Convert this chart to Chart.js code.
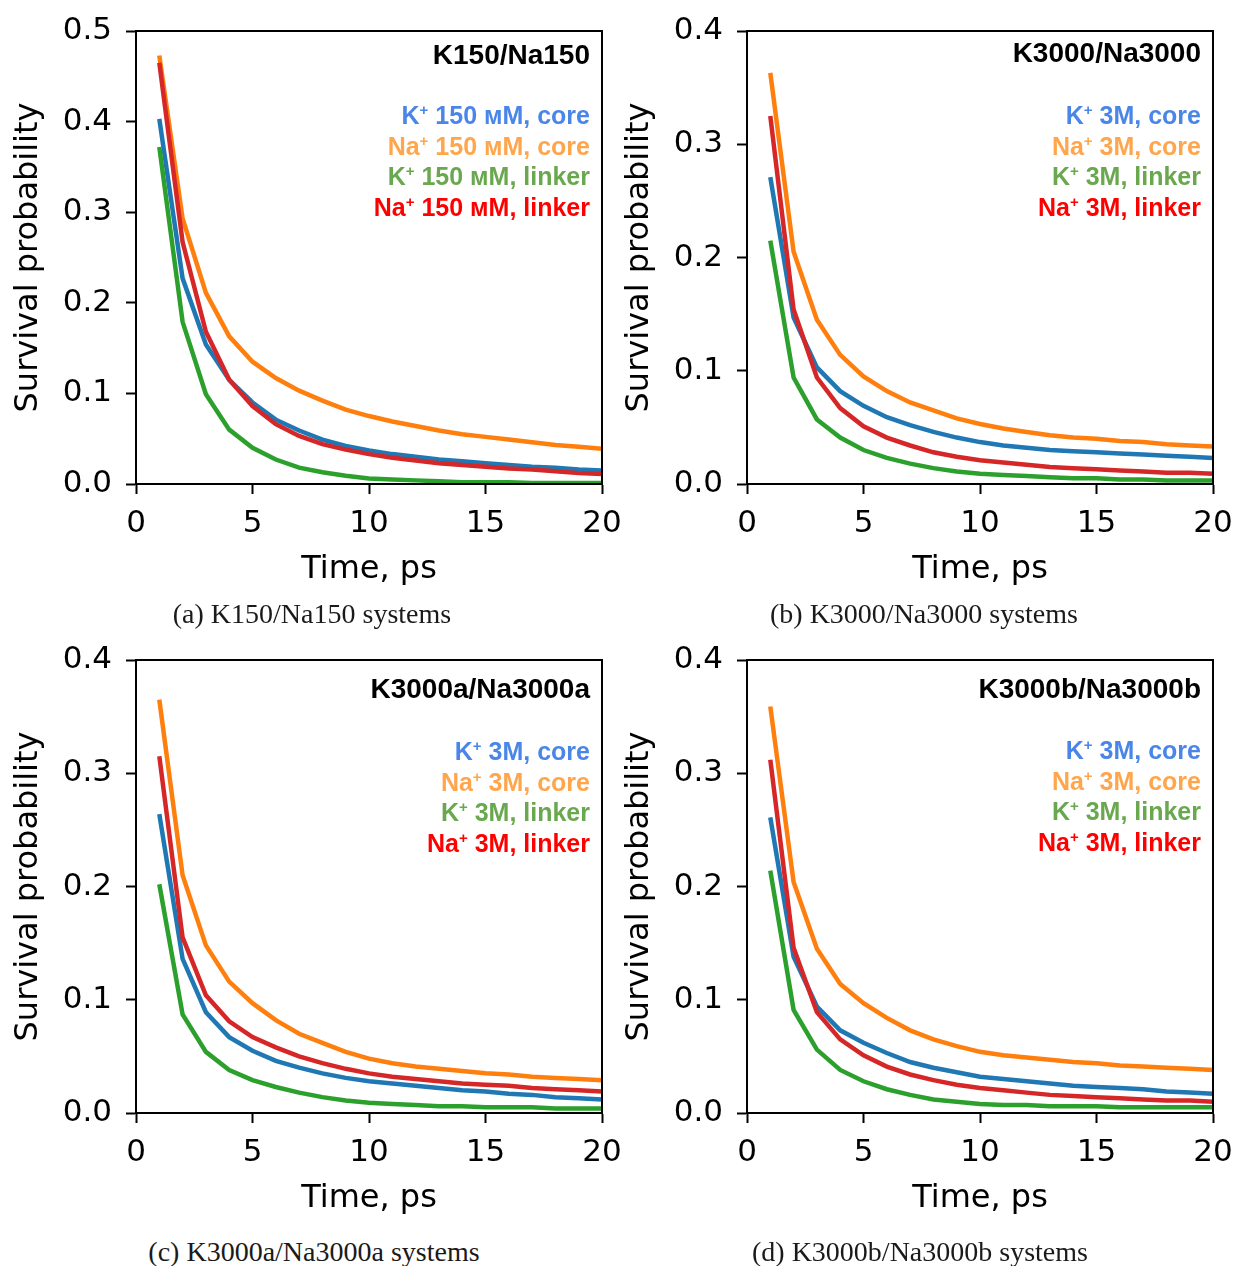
<!DOCTYPE html>
<html>
<head>
<meta charset="utf-8">
<script src="https://cdn.jsdelivr.net/npm/chart.js@4"></script>
<style>
  body { margin: 0; background: #fff; }
  #page { position: relative; width: 1234px; height: 1266px; background: #fff; }
  .panel { position: absolute; width: 620px; height: 600px; }
  .caption {
    position: absolute; width: 620px; text-align: center;
    font-family: "Liberation Serif", serif; font-size: 28px; color: #1a1a1a;
    line-height: 32px;
  }
</style>
</head>
<body>
<div id="page">
  <div class="panel" style="left:0;top:0"><canvas id="chartA" width="620" height="600"></canvas></div>
  <div class="panel" style="left:611px;top:0"><canvas id="chartB" width="620" height="600"></canvas></div>
  <div class="panel" style="left:0;top:629px"><canvas id="chartC" width="620" height="600"></canvas></div>
  <div class="panel" style="left:611px;top:629px"><canvas id="chartD" width="620" height="600"></canvas></div>
  <div class="caption" style="left:2px;top:598px">(a) K150/Na150 systems</div>
  <div class="caption" style="left:614px;top:598px">(b) K3000/Na3000 systems</div>
  <div class="caption" style="left:4px;top:1236px">(c) K3000a/Na3000a systems</div>
  <div class="caption" style="left:610px;top:1236px">(d) K3000b/Na3000b systems</div>
</div>
<script>
// time axis, ps
const timePs = [1, 2, 3, 4, 5, 6, 7, 8, 9, 10, 11, 12, 13, 14, 15, 16, 17, 18, 19, 20];

// (a) K150/Na150
const a_kCore   = [0.403, 0.227, 0.154, 0.115, 0.090, 0.071, 0.059, 0.049, 0.042, 0.037, 0.033, 0.030, 0.027, 0.025, 0.023, 0.021, 0.019, 0.018, 0.016, 0.015];
const a_naCore  = [0.473, 0.293, 0.211, 0.163, 0.135, 0.117, 0.103, 0.092, 0.082, 0.075, 0.069, 0.064, 0.059, 0.055, 0.052, 0.049, 0.046, 0.043, 0.041, 0.039];
const a_kLink   = [0.372, 0.179, 0.099, 0.060, 0.040, 0.027, 0.018, 0.013, 0.009, 0.006, 0.005, 0.004, 0.003, 0.002, 0.002, 0.002, 0.001, 0.001, 0.001, 0.001];
const a_naLink  = [0.465, 0.267, 0.168, 0.115, 0.086, 0.066, 0.053, 0.044, 0.038, 0.033, 0.029, 0.026, 0.023, 0.021, 0.019, 0.017, 0.016, 0.014, 0.012, 0.011];

// (b) K3000/Na3000
const b_kCore   = [0.271, 0.147, 0.103, 0.082, 0.069, 0.059, 0.052, 0.046, 0.041, 0.037, 0.034, 0.032, 0.030, 0.029, 0.028, 0.027, 0.026, 0.025, 0.024, 0.023];
const b_naCore  = [0.363, 0.205, 0.145, 0.114, 0.095, 0.082, 0.072, 0.065, 0.058, 0.053, 0.049, 0.046, 0.043, 0.041, 0.040, 0.038, 0.037, 0.035, 0.034, 0.033];
const b_kLink   = [0.215, 0.094, 0.057, 0.041, 0.030, 0.023, 0.018, 0.014, 0.011, 0.009, 0.008, 0.007, 0.006, 0.005, 0.005, 0.004, 0.004, 0.003, 0.003, 0.003];
const b_naLink  = [0.325, 0.154, 0.094, 0.067, 0.051, 0.041, 0.034, 0.028, 0.024, 0.021, 0.019, 0.017, 0.015, 0.014, 0.013, 0.012, 0.011, 0.010, 0.010, 0.009];

// (c) K3000a/Na3000a
const c_kCore   = [0.264, 0.136, 0.089, 0.067, 0.055, 0.046, 0.040, 0.035, 0.031, 0.028, 0.026, 0.024, 0.022, 0.020, 0.019, 0.017, 0.016, 0.014, 0.013, 0.012];
const c_naCore  = [0.365, 0.210, 0.148, 0.116, 0.097, 0.082, 0.070, 0.062, 0.054, 0.048, 0.044, 0.041, 0.039, 0.037, 0.035, 0.034, 0.032, 0.031, 0.030, 0.029];
const c_kLink   = [0.202, 0.087, 0.054, 0.038, 0.029, 0.023, 0.018, 0.014, 0.011, 0.009, 0.008, 0.007, 0.006, 0.006, 0.005, 0.005, 0.005, 0.004, 0.004, 0.004];
const c_naLink  = [0.315, 0.155, 0.104, 0.081, 0.067, 0.058, 0.050, 0.044, 0.039, 0.035, 0.032, 0.030, 0.028, 0.026, 0.025, 0.024, 0.022, 0.021, 0.020, 0.019];

// (d) K3000b/Na3000b
const d_kCore   = [0.261, 0.138, 0.094, 0.073, 0.062, 0.053, 0.045, 0.040, 0.036, 0.032, 0.030, 0.028, 0.026, 0.024, 0.023, 0.022, 0.021, 0.019, 0.018, 0.017];
const d_naCore  = [0.359, 0.204, 0.145, 0.114, 0.097, 0.084, 0.073, 0.065, 0.059, 0.054, 0.051, 0.049, 0.047, 0.045, 0.044, 0.042, 0.041, 0.040, 0.039, 0.038];
const d_kLink   = [0.214, 0.091, 0.056, 0.038, 0.028, 0.021, 0.016, 0.012, 0.010, 0.008, 0.007, 0.007, 0.006, 0.006, 0.006, 0.005, 0.005, 0.005, 0.005, 0.005];
const d_naLink  = [0.312, 0.146, 0.089, 0.065, 0.051, 0.041, 0.034, 0.029, 0.025, 0.022, 0.020, 0.018, 0.016, 0.015, 0.014, 0.013, 0.012, 0.011, 0.011, 0.010];

// tick labels
const xTicks = [0, 5, 10, 15, 20];
const yTicksA = [0.0, 0.1, 0.2, 0.3, 0.4, 0.5];
const yTicksB = [0.0, 0.1, 0.2, 0.3, 0.4];

// panel titles and label text (ion, superscript, rest)
const panelTitles = ['K150/Na150', 'K3000/Na3000', 'K3000a/Na3000a', 'K3000b/Na3000b'];
const ions = ['K', 'Na', 'K', 'Na'];
const sites150 = [' 150 мМ, core', ' 150 мМ, core', ' 150 мМ, linker', ' 150 мМ, linker'];
const sites3M = [' 3M, core', ' 3M, core', ' 3M, linker', ' 3M, linker'];

const lineColors = ['#1f77b4', '#ff7f0e', '#2ca02c', '#d62728'];
const textColors = ['#4a86e8', '#ffa64d', '#6aa84f', '#ff0000'];

// draws the frame and the in-plot annotation
const panelTextPlugin = {
  id: 'panelText',
  afterDraw(chart, args, opts) {
    const ctx = chart.ctx;
    const area = chart.chartArea;
    ctx.save();
    ctx.strokeStyle = '#000';
    ctx.lineWidth = 2;
    ctx.strokeRect(area.left, area.top, area.right - area.left, area.bottom - area.top);

    const right = area.right - 12;
    ctx.textBaseline = 'alphabetic';
    ctx.textAlign = 'right';
    ctx.fillStyle = '#000';
    ctx.font = 'bold 28px "Liberation Sans", Arial, sans-serif';
    ctx.fillText(opts.title, right, area.top + opts.titleY);

    const baseFont = 'bold 25px "Liberation Sans", Arial, sans-serif';
    const supFont = 'bold 15px "Liberation Sans", Arial, sans-serif';
    ctx.textAlign = 'left';
    opts.sites.forEach((site, i) => {
      const y = area.top + opts.linesY + i * 30.5;
      ctx.font = baseFont;
      const w1 = ctx.measureText(ions[i]).width;
      const w3 = ctx.measureText(site).width;
      ctx.font = supFont;
      const w2 = ctx.measureText('+').width;
      let x = right - (w1 + w2 + w3);
      ctx.fillStyle = textColors[i];
      ctx.font = baseFont;
      ctx.fillText(ions[i], x, y);
      x += w1;
      ctx.font = supFont;
      ctx.fillText('+', x, y - 9);
      x += w2;
      ctx.font = baseFont;
      ctx.fillText(site, x, y);
    });
    ctx.restore();
  }
};

function makePanel(canvasId, series, yTicks, title, sites, titleY, linesY) {
  const tickFont = { family: '"DejaVu Sans", sans-serif', size: 31 };
  const titleFont = { family: '"DejaVu Sans", sans-serif', size: 32 };
  const axisGrid = {
    drawOnChartArea: false,
    drawTicks: true,
    tickLength: 10,
    tickColor: '#000',
    tickWidth: 2
  };
  // blue, orange, green, red; red drawn on top like the original
  const datasets = series.map((vals, i) => ({
    data: timePs.map((t, k) => ({ x: t, y: vals[k] })),
    borderColor: lineColors[i],
    borderWidth: 4.5,
    pointRadius: 0,
    tension: 0,
    fill: false,
    order: 4 - i
  }));

  return new Chart(document.getElementById(canvasId), {
    type: 'line',
    data: { datasets },
    plugins: [panelTextPlugin],
    options: {
      responsive: false,
      animation: false,
      devicePixelRatio: 1,
      layout: { padding: { left: 0, top: 31, right: 18, bottom: 0 } },
      plugins: {
        legend: { display: false },
        tooltip: { enabled: false },
        panelText: { title, sites, titleY, linesY }
      },
      scales: {
        x: {
          type: 'linear',
          min: xTicks[0],
          max: xTicks[xTicks.length - 1],
          afterBuildTicks: s => { s.ticks = xTicks.map(v => ({ value: v })); },
          afterFit: s => { s.height = 116; s.paddingLeft = 0; s.paddingRight = 0; },
          grid: axisGrid,
          border: { display: true, color: '#000', width: 2 },
          ticks: { color: '#000', font: tickFont, padding: 11, maxRotation: 0 },
          title: { display: true, text: 'Time, ps', color: '#000', font: titleFont, padding: { top: 0, bottom: 11 } }
        },
        y: {
          type: 'linear',
          min: yTicks[0],
          max: yTicks[yTicks.length - 1],
          afterBuildTicks: s => { s.ticks = yTicks.map(v => ({ value: v })); },
          afterFit: s => { s.width = 136; s.paddingTop = 0; s.paddingBottom = 0; },
          grid: axisGrid,
          border: { display: true, color: '#000', width: 2 },
          ticks: { color: '#000', font: tickFont, padding: 14, callback: v => Number(v).toFixed(1) },
          title: { display: true, text: 'Survival probability', color: '#000', font: titleFont, padding: { top: 9, bottom: 0 } }
        }
      }
    }
  });
}

makePanel('chartA', [a_kCore, a_naCore, a_kLink, a_naLink], yTicksA, panelTitles[0], sites150, 33, 93);
makePanel('chartB', [b_kCore, b_naCore, b_kLink, b_naLink], yTicksB, panelTitles[1], sites3M, 31, 93);
makePanel('chartC', [c_kCore, c_naCore, c_kLink, c_naLink], yTicksB, panelTitles[2], sites3M, 38, 100);
makePanel('chartD', [d_kCore, d_naCore, d_kLink, d_naLink], yTicksB, panelTitles[3], sites3M, 38, 99);
</script>
</body>
</html>
